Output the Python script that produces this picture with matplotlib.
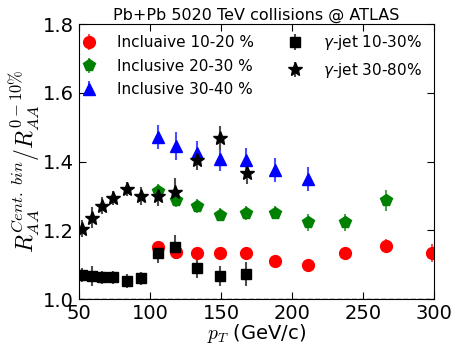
import numpy as np
import matplotlib
matplotlib.use("Agg")
import matplotlib.pyplot as plt

# Inclusive jets, 10-20 %
pt_r = [105.4, 118.3, 133.0, 149.3, 167.6, 188.0, 211.0, 237.3, 266.0, 298.4]
r_r = [1.152, 1.137, 1.134, 1.134, 1.135, 1.110, 1.100, 1.134, 1.154, 1.134]
e_r = [0.015, 0.018, 0.015, 0.018, 0.018, 0.015, 0.015, 0.018, 0.020, 0.025]

# Inclusive jets, 20-30 %
pt_g = [105.4, 118.3, 133.0, 149.3, 167.6, 188.0, 211.0, 237.3, 266.0]
r_g = [1.316, 1.289, 1.272, 1.246, 1.250, 1.252, 1.224, 1.224, 1.287]
e_g = [0.02, 0.02, 0.02, 0.02, 0.02, 0.02, 0.025, 0.025, 0.03]

# Inclusive jets, 30-40 %
pt_b = [105.4, 118.3, 133.0, 149.3, 167.6, 188.0, 211.0]
r_b = [1.473, 1.446, 1.424, 1.408, 1.405, 1.376, 1.350]
e_b = [0.035, 0.04, 0.035, 0.035, 0.035, 0.035, 0.035]

# gamma-jet, 10-30 %
pt_sq = [52.3, 59.0, 66.0, 73.7, 83.6, 94.0, 105.4, 117.6, 133.0, 149.3, 167.6]
r_sq = [1.070, 1.067, 1.063, 1.063, 1.053, 1.060, 1.134, 1.152, 1.091, 1.067, 1.072]
e_sq = [0.02, 0.03, 0.02, 0.02, 0.02, 0.02, 0.03, 0.035, 0.03, 0.03, 0.035]

# gamma-jet, 30-80 %
pt_st = [52.3, 59.0, 66.0, 73.7, 83.6, 94.0, 105.4, 117.6, 133.0, 149.3, 168.0]
r_st = [1.205, 1.237, 1.272, 1.295, 1.320, 1.300, 1.300, 1.313, 1.405, 1.470, 1.366]
e_st = [0.025, 0.03, 0.025, 0.02, 0.02, 0.025, 0.03, 0.04, 0.03, 0.035, 0.03]

plt.rcParams["xtick.direction"] = "in"
plt.rcParams["ytick.direction"] = "in"
plt.rcParams["xtick.top"] = True
plt.rcParams["ytick.right"] = True

fig = plt.figure(figsize=(4.54, 3.45), dpi=100)
ax = fig.add_axes([0.174, 0.133, 0.782, 0.797])

ax.errorbar(pt_r, r_r, yerr=e_r, fmt="o", color="red", ms=8.5, mec="red",
            ecolor=(1, 0.3, 0.3), elinewidth=1.5, label="Incluaive 10-20 %")
ax.errorbar(pt_g, r_g, yerr=e_g, fmt="p", color="green", ms=8.5, mec="green",
            ecolor=(0.3, 0.65, 0.3), elinewidth=1.5, label="Inclusive 20-30 %")
ax.errorbar(pt_b, r_b, yerr=e_b, fmt="^", color="blue", ms=8.5, mec="blue",
            ecolor=(0.3, 0.3, 1), elinewidth=1.5, label="Inclusive 30-40 %")
ax.errorbar(pt_sq, r_sq, yerr=e_sq, fmt="s", color="black", ms=7.5,
            ecolor=(0.3, 0.3, 0.3), elinewidth=1.5, label=r"$\gamma$-jet 10-30%")
ax.errorbar(pt_st, r_st, yerr=e_st, fmt="*", color="black", ms=10.5,
            ecolor=(0.3, 0.3, 0.3), elinewidth=1.5, label=r"$\gamma$-jet 30-80%")

ax.axhline(1.0, color="black", ls="--", lw=1)

ax.set_xlim(50, 300)
ax.set_ylim(1.0, 1.8)
ax.set_xticks([50, 100, 150, 200, 250, 300])
ax.set_yticks([1.0, 1.2, 1.4, 1.6, 1.8])
ax.tick_params(labelsize=14, length=5)
ax.set_xlabel(r"$p_T$ (GeV/c)", fontsize=14, labelpad=-1, math_fontfamily="cm")
ax.set_ylabel(r"$R_{AA}^{Cent.\ bin}/R_{AA}^{0-10\%}$", fontsize=17, labelpad=0,
              math_fontfamily="cm")
ax.set_title("Pb+Pb 5020 TeV collisions @ ATLAS", fontsize=11.5, pad=3)

ax.legend(ncol=2, loc="upper left", bbox_to_anchor=(0, 0.989), frameon=False,
          fontsize=11, handlelength=0.5, handletextpad=1.6, columnspacing=2.4,
          labelspacing=0.55, borderpad=0.1, borderaxespad=0.3)

fig.savefig("out.png", dpi=100)
